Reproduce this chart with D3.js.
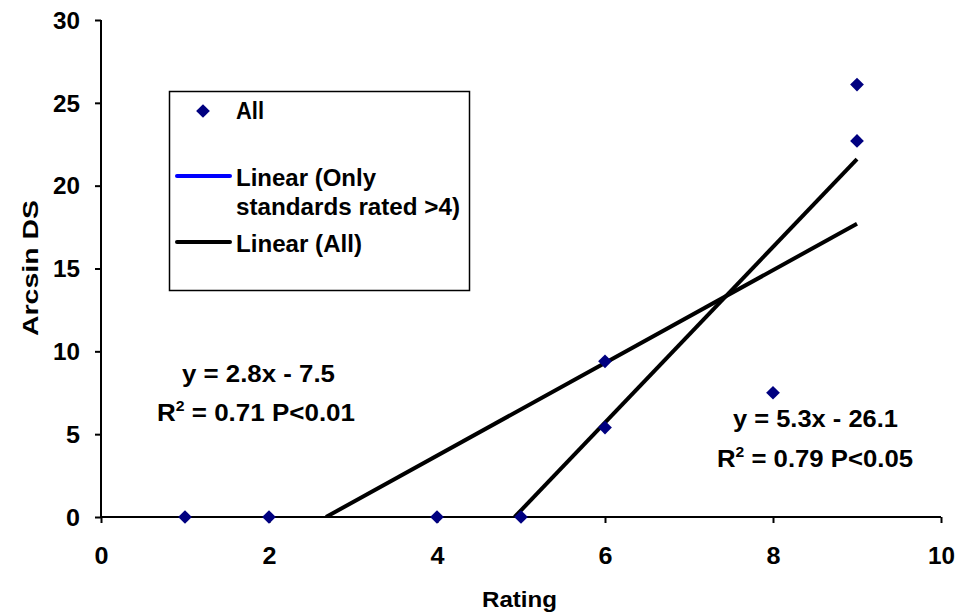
<!DOCTYPE html>
<html>
<head>
<meta charset="utf-8">
<script src="https://cdn.jsdelivr.net/npm/d3@7"></script>
<style>
  body { margin: 0; background: #fff; }
  text { font-family: Arial, "Liberation Sans", sans-serif; font-weight: bold; }
</style>
</head>
<body>
<svg id="chart"></svg>
<script>
// data
const ratings = [1, 2, 4, 5, 6, 6, 8, 9, 9]
const arcsinDS = [0, 0, 0, 0, 9.4, 5.4, 7.5, 22.7, 26.1]

const xTicks = [0, 2, 4, 6, 8, 10]
const yTicks = [0, 5, 10, 15, 20, 25, 30]

// trendlines: slope, intercept, start x, end x
const fitAll = { m: 2.8, b: -7.5, x0: 1, x1: 9 }
const fitHigh = { m: 5.3, b: -26.1, x0: 4.9, x1: 9 }

const legendLabels = ['All', ['Linear (Only', 'standards rated >4)'], 'Linear (All)']

const W = 958, H = 615
const margin = { top: 20, right: 17, bottom: 98, left: 101 }
const width = W - margin.left - margin.right
const height = H - margin.top - margin.bottom

const svg = d3.select('#chart').attr('width', W).attr('height', H)
const g = svg.append('g').attr('transform', `translate(${margin.left},${margin.top})`)

const x = d3.scaleLinear().domain([0, 10]).range([0, width])
const y = d3.scaleLinear().domain([0, 30]).range([height, 0])

g.append('clipPath').attr('id', 'plot')
  .append('rect').attr('width', width).attr('height', height + 1)

// axes
const xAxis = g.append('g')
  .attr('transform', `translate(0,${height})`)
  .call(d3.axisBottom(x).tickValues(xTicks).tickSize(6).tickFormat(d3.format('d')))
const yAxis = g.append('g')
  .call(d3.axisLeft(y).tickValues(yTicks).tickSize(6).tickFormat(d3.format('d')))

;[xAxis, yAxis].forEach(a => {
  a.attr('font-size', null).attr('font-family', null)
  a.selectAll('path, line').attr('stroke', '#000').attr('stroke-width', 2)
  a.selectAll('.tick text')
    .attr('fill', '#000')
    .attr('font-size', '23px')
    .style('font-size', '23px')
    .attr('textLength', d => d >= 10 ? 27 : 14)
    .attr('lengthAdjust', 'spacingAndGlyphs')
})
xAxis.selectAll('.tick text').attr('y', 31).attr('dy', '0.71em').attr('text-anchor', 'middle')
  .attr('x', d => d >= 10 ? -13.5 : -7).attr('text-anchor', 'start')
yAxis.selectAll('.tick text').attr('x', -48).attr('dy', '0.36em')
  .attr('x', d => d >= 10 ? -48 : -35).attr('text-anchor', 'start')
xAxis.select('.domain').attr('d', `M0,0H${width}`)
yAxis.select('.domain').attr('d', `M0,${height}V0`)

// trendlines
const line = d3.line().x(d => x(d[0])).y(d => y(d[1]))
const lines = g.append('g').attr('clip-path', 'url(#plot)')
;[fitAll, fitHigh].forEach(f => {
  const xs = [Math.max(f.x0, -f.b / f.m), f.x1]
  lines.append('path')
    .datum(xs.map(v => [v, f.m * v + f.b]))
    .attr('d', line)
    .attr('fill', 'none')
    .attr('stroke', '#000')
    .attr('stroke-width', 4)
})

// points
const diamond = d3.symbol().type(d3.symbolDiamond2).size(120)
g.append('g').selectAll('path')
  .data(ratings.map((r, i) => [r, arcsinDS[i]]))
  .join('path')
    .attr('transform', d => `translate(${x(d[0])},${y(d[1])})`)
    .attr('d', diamond)
    .attr('fill', '#000080')

// text helper, stretched a bit like the original
function label(parent, tx, ty, str, len, size) {
  return parent.append('text').attr('x', tx).attr('y', ty)
    .attr('textLength', len).attr('lengthAdjust', 'spacingAndGlyphs')
    .style('font-size', size + 'px').text(str)
}

// equations
function equation(x1, y1, w1, eq, x2, y2, w2, r2) {
  label(svg, x1, y1, eq, w1, 23)
  const r = svg.append('text').attr('x', x2).attr('y', y2)
    .attr('textLength', w2).attr('lengthAdjust', 'spacingAndGlyphs')
    .style('font-size', '23px')
  r.append('tspan').text('R')
  r.append('tspan').attr('dy', -10).style('font-size', '14px').text('2')
  r.append('tspan').attr('dy', 10).text(' = ' + r2)
}
equation(182, 382, 153, 'y = 2.8x - 7.5', 157, 421, 198, '0.71 P<0.01')
equation(733, 427, 165, 'y = 5.3x - 26.1', 717, 467, 196, '0.79 P<0.05')

// axis titles
label(svg, 482, 607, 'Rating', 75, 22)
label(svg.append('g').attr('transform', 'translate(38,336) rotate(-90)'), 0, 0, 'Arcsin DS', 136, 22)

// legend
const lg = svg.append('g')
lg.append('rect').attr('x', 169.5).attr('y', 91.5).attr('width', 300).attr('height', 199)
  .attr('fill', '#fff').attr('stroke', '#000').attr('stroke-width', 1.5)
lg.append('path').attr('transform', 'translate(203,111)').attr('d', diamond).attr('fill', '#000080')
label(lg, 236, 119, legendLabels[0], 28, 23)
lg.append('line').attr('x1', 177).attr('x2', 230).attr('y1', 176).attr('y2', 176)
  .attr('stroke', '#0000ff').attr('stroke-width', 4).attr('stroke-linecap', 'round')
label(lg, 236, 186, legendLabels[1][0], 140, 23)
label(lg, 236, 215, legendLabels[1][1], 224, 23)
lg.append('line').attr('x1', 177).attr('x2', 230).attr('y1', 242).attr('y2', 242)
  .attr('stroke', '#000').attr('stroke-width', 4).attr('stroke-linecap', 'round')
label(lg, 236, 252, legendLabels[2], 126, 23)
</script>
</body>
</html>
